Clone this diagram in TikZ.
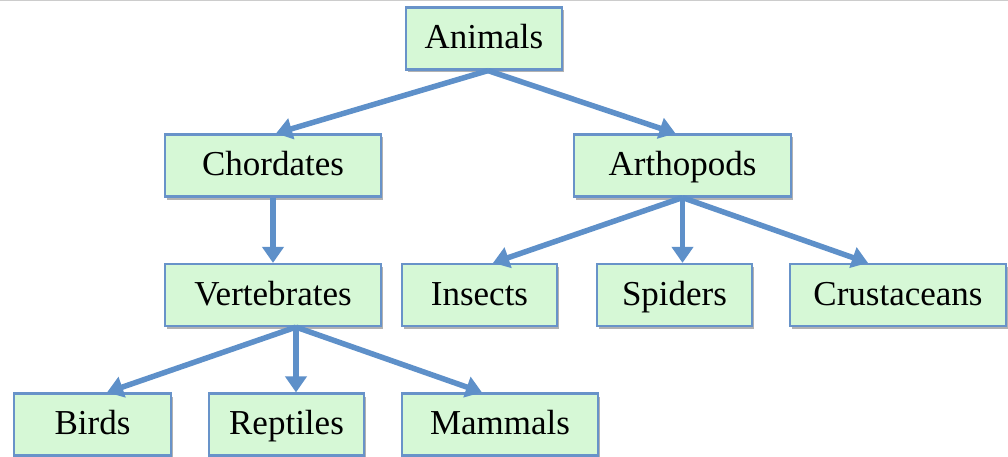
\documentclass[tikz,border=0pt]{standalone}
\usepackage{fontspec}
\setmainfont{Liberation Serif}
\usetikzlibrary{arrows.meta,shadows}
\definecolor{boxfill}{HTML}{D6F8D6}
\definecolor{boxline}{HTML}{6893C9}
\definecolor{arr}{HTML}{5E90C9}
\begin{document}
\begin{tikzpicture}[x=1pt,y=-1pt,
  box/.style={draw=boxline, line width=2.2pt, fill=boxfill, inner sep=0pt,
    minimum height=62pt, text height=23pt, text depth=3pt,
    font=\fontsize{35}{40}\selectfont,
    drop shadow={shadow xshift=2pt, shadow yshift=-3pt, opacity=0.3, fill=black}},
  link/.style={draw=arr, line width=5.5pt, -{Triangle[width=21pt,length=16pt]}}]
\useasboundingbox (0,0) rectangle (1008,457);
\fill[white] (0,0) rectangle (1008,457);
\draw[black!20, line width=1.5pt] (0,0.75) -- (1008,0.75);

\node[box, minimum width=156pt] (animals) at (484,38.5) {Animals};
\node[box, minimum width=216pt] (chordates) at (273,165.5) {Chordates};
\node[box, minimum width=217pt] (arthopods) at (682.5,165.5) {Arthopods};
\node[box, minimum width=216pt] (vertebrates) at (273,295) {Vertebrates};
\node[box, minimum width=155pt] (insects) at (479.5,295) {Insects};
\node[box, minimum width=155pt] (spiders) at (674.5,295) {Spiders};
\node[box, minimum width=216pt] (crustaceans) at (898,295) {Crustaceans};
\node[box, minimum width=157pt] (birds) at (92.5,424.5) {Birds};
\node[box, minimum width=155pt] (reptiles) at (286.5,424.5) {Reptiles};
\node[box, minimum width=196pt] (mammals) at (500,424.5) {Mammals};

\draw[link] ([xshift=4pt]animals.south) -- ([xshift=3pt]chordates.north);
\draw[link] ([xshift=4pt]animals.south) -- ([xshift=-7pt]arthopods.north);
\draw[link] (chordates.south) -- (vertebrates.north);
\draw[link] (arthopods.south) -- ([xshift=13.5pt]insects.north);
\draw[link] (arthopods.south) -- ([xshift=8pt]spiders.north);
\draw[link] (arthopods.south) -- ([xshift=-30pt]crustaceans.north);
\draw[link] ([xshift=23pt]vertebrates.south) -- ([xshift=14.5pt]birds.north);
\draw[link] ([xshift=23pt]vertebrates.south) -- ([xshift=9.5pt]reptiles.north);
\draw[link] ([xshift=23pt]vertebrates.south) -- ([xshift=-18pt]mammals.north);
\end{tikzpicture}
\end{document}
